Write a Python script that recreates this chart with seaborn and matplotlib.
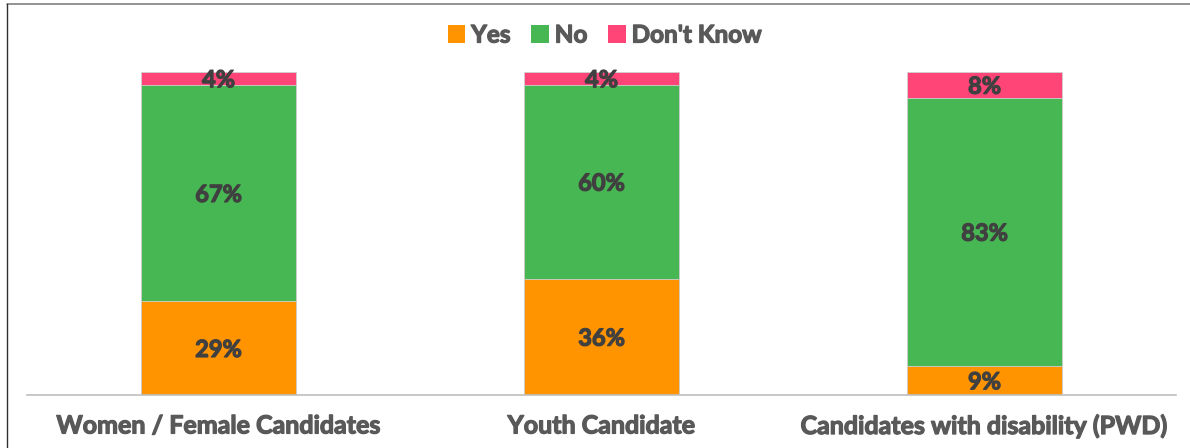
import matplotlib
matplotlib.use("Agg")
import matplotlib.pyplot as plt
import matplotlib.patheffects as pe
from matplotlib.lines import Line2D
from matplotlib.patches import Patch
import seaborn as sns
import pandas as pd

categories = ["Women / Female Candidates", "Youth Candidate", "Candidates with disability (PWD)"]
yes = [29, 36, 9]
no = [67, 60, 83]
dont_know = [4, 4, 8]
series_names = ["Yes", "No", "Don't Know"]
colors = {"Yes": "#FF9300", "No": "#47B753", "Don't Know": "#FF4478"}

sns.set_theme(style="white")
plt.rcParams["font.family"] = ["Lato", "DejaVu Sans"]

df = pd.DataFrame({"category": categories, "Yes": yes, "No": no, "Don't Know": dont_know})
df["cum_yes"] = df["Yes"]
df["cum_no"] = df["Yes"] + df["No"]
df["cum_dk"] = df["Yes"] + df["No"] + df["Don't Know"]

fig = plt.figure(figsize=(11.9, 4.48), dpi=100)
ax = fig.add_axes([27 / 1190, 53 / 448, 1149 / 1190, 323 / 448])

# stacked bars drawn as overlapping cumulative layers
bar_w = 0.405
for col, name in [("cum_dk", "Don't Know"), ("cum_no", "No"), ("cum_yes", "Yes")]:
    sns.barplot(data=df, x="category", y=col, color=colors[name], width=bar_w,
                saturation=1, edgecolor="#D0D0D0", linewidth=0.6, ax=ax, errorbar=None)

def heavy(color):
    # thicken glyphs slightly for a heavier bold look
    return [pe.withStroke(linewidth=0.9, foreground=color)]

# value labels centred in each segment
for i, row in df.iterrows():
    bottom = 0
    for name in series_names:
        v = row[name]
        ax.text(i, bottom + v / 2 - 0.4, f"{v}%", ha="center", va="center",
                fontsize=17, fontweight="bold", color="#404040",
                path_effects=heavy("#404040"))
        bottom += v

ax.set_xlim(-0.5, 2.5)
ax.set_ylim(0, 100)
ax.set_xlabel("")
ax.set_ylabel("")
ax.set_yticks([])
for s in ["top", "right", "left"]:
    ax.spines[s].set_visible(False)
ax.spines["bottom"].set_color("#BFBFBF")
ax.spines["bottom"].set_linewidth(1.2)
ax.tick_params(axis="x", length=0, pad=14, labelsize=18, labelcolor="#595959")
for lbl in ax.get_xticklabels():
    lbl.set_fontweight("bold")
    lbl.set_path_effects(heavy("#595959"))

handles = [Patch(facecolor=colors[n], edgecolor="none") for n in series_names]
leg = fig.legend(handles, series_names, loc="center", bbox_to_anchor=(0.508, (448 - 35) / 448),
                 ncol=3, frameon=False, handlelength=0.72, handleheight=0.72, handletextpad=0.25,
                 columnspacing=0.85, prop={"weight": "bold", "size": 17.5}, labelcolor="#595959")
for t in leg.get_texts():
    t.set_path_effects(heavy("#595959"))

# outer frame lines
fig.add_artist(Line2D([7 / 1190, 1], [1 - 4 / 448, 1 - 4 / 448], color="#808080", linewidth=1.2))
fig.add_artist(Line2D([7 / 1190, 7 / 1190], [0, 1 - 4 / 448], color="#303030", linewidth=1.0))

fig.savefig("out.png", dpi=100)
